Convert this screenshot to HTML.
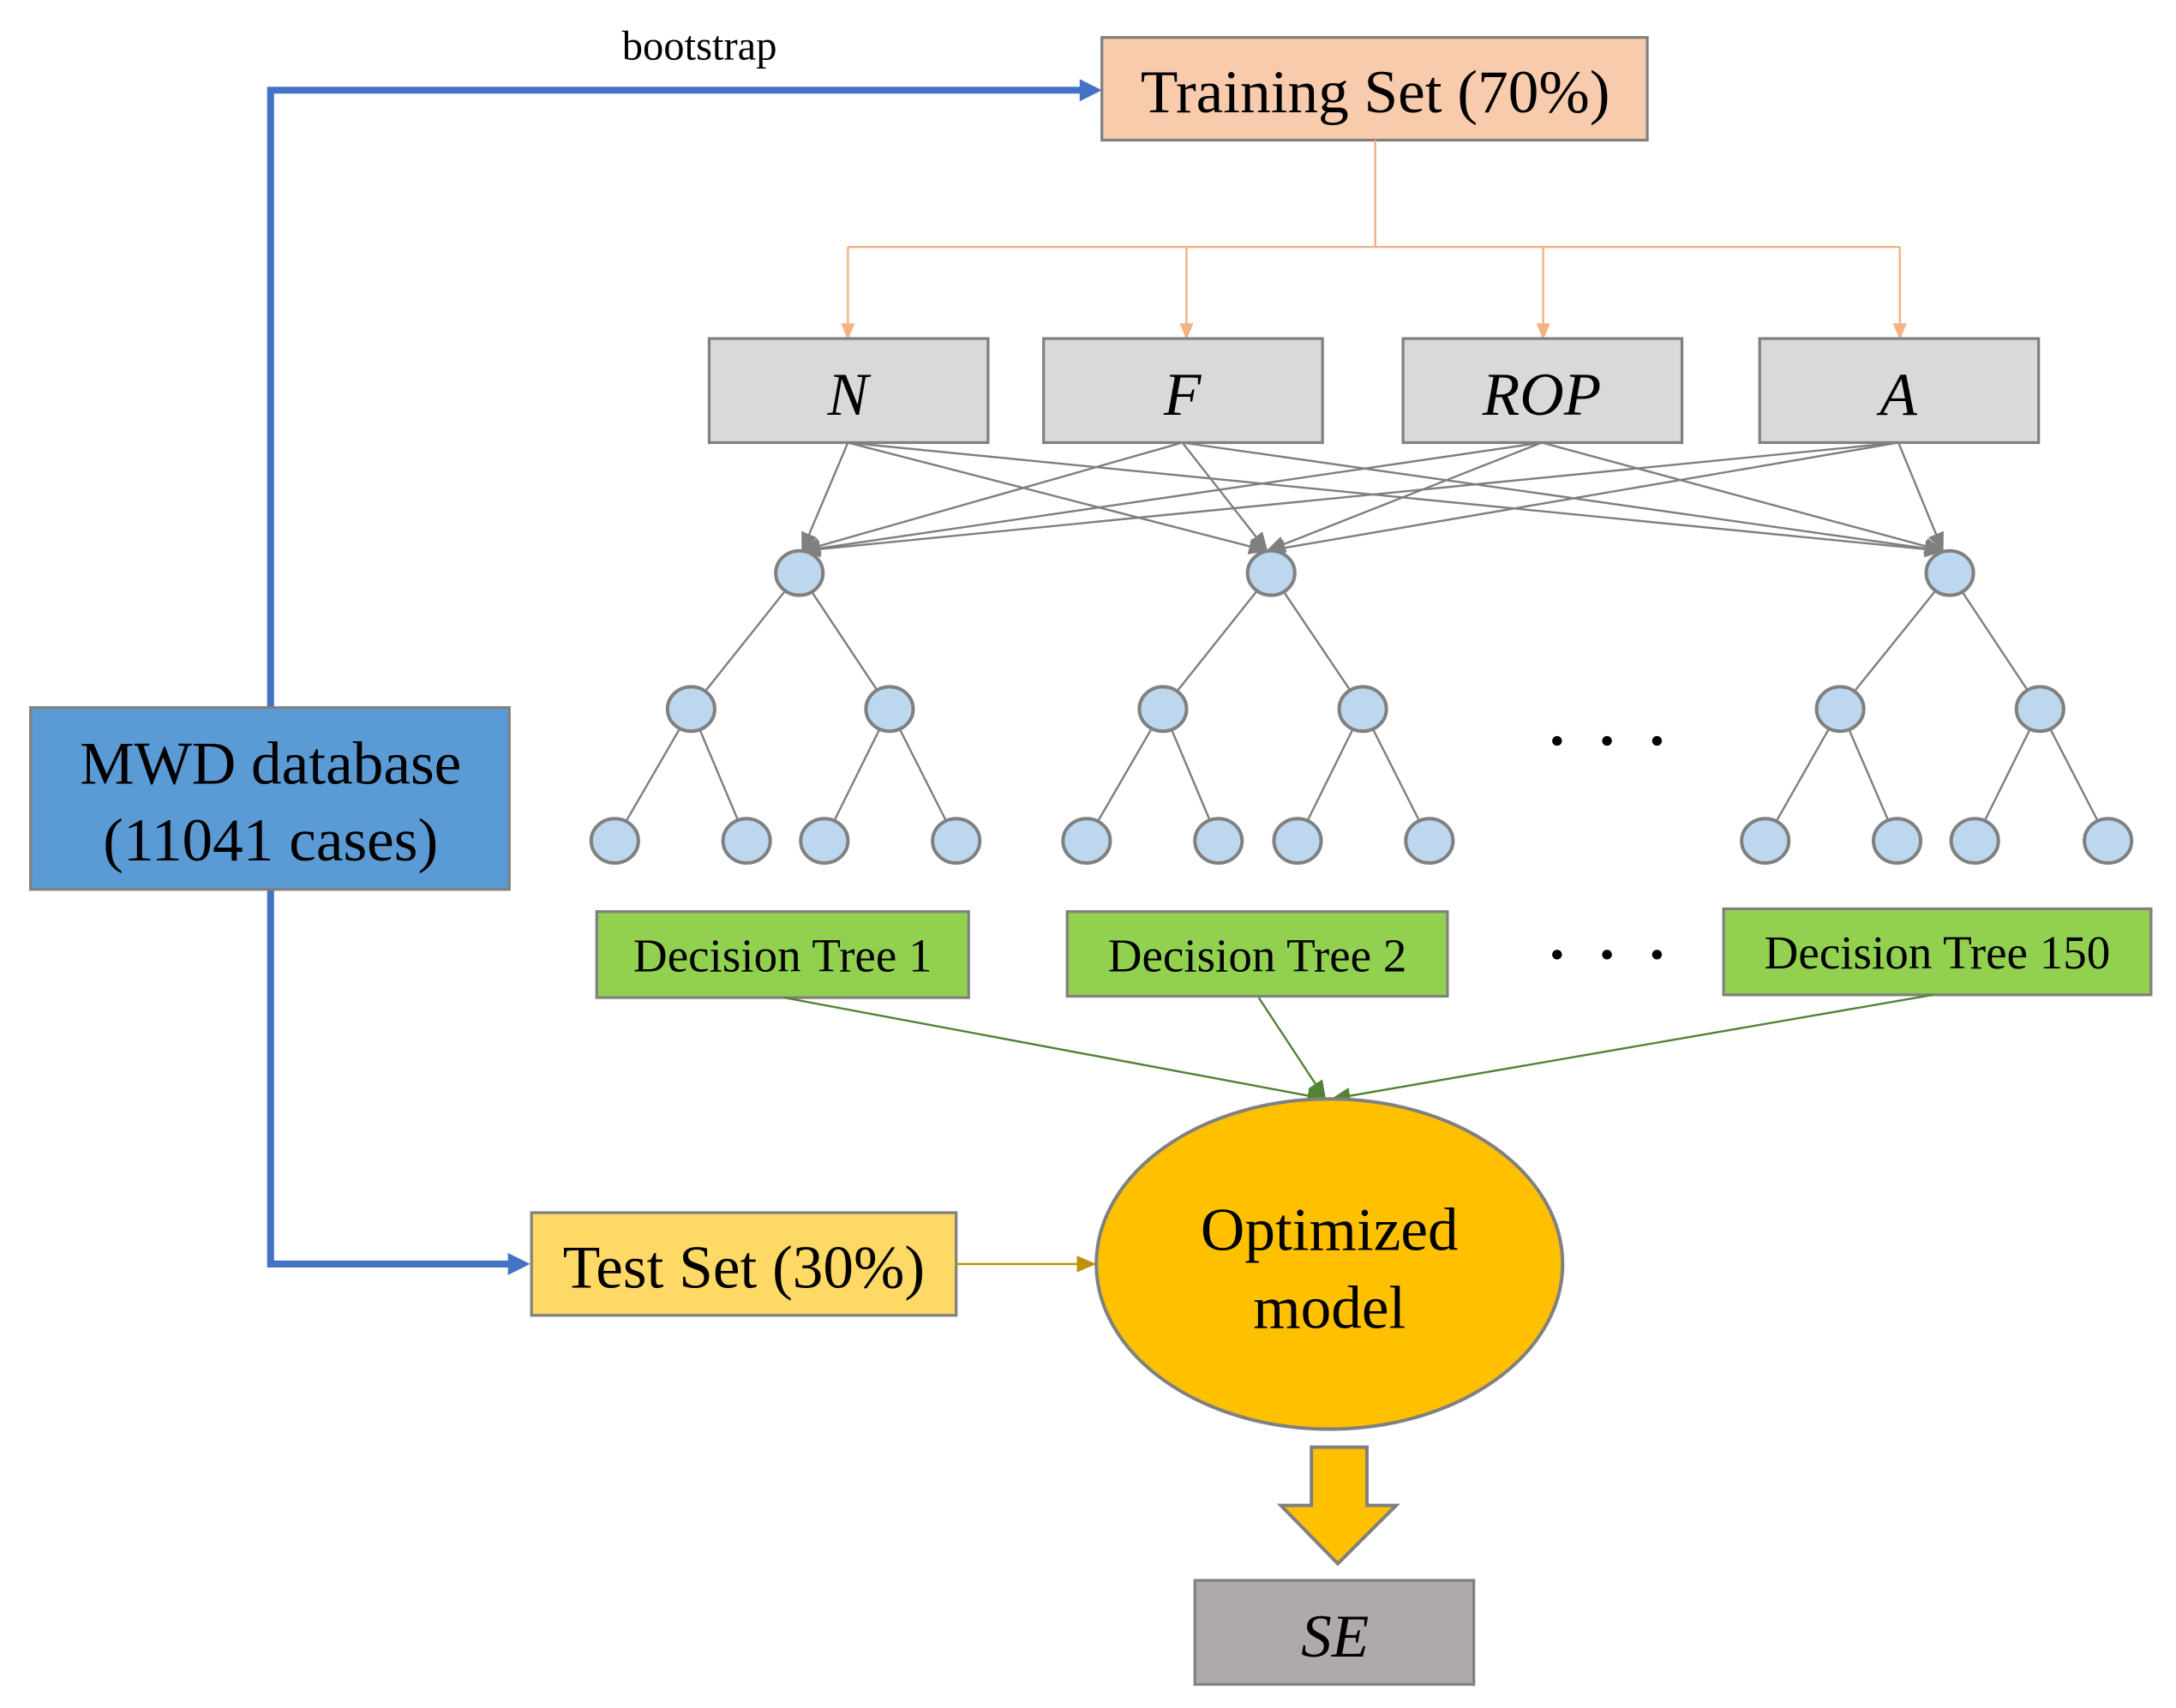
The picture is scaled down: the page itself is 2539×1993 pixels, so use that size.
<!DOCTYPE html>
<html><head><meta charset="utf-8"><style>
html,body{margin:0;padding:0;background:#fff;}
svg{display:block;}
text{font-family:"Liberation Serif",serif;fill:#000;}
</style></head><body>
<svg width="2539" height="1993" viewBox="0 0 1568 1231" preserveAspectRatio="none" xmlns="http://www.w3.org/2000/svg">
<defs>
<marker id="ab" markerWidth="6" markerHeight="6" refX="5" refY="3" orient="auto" markerUnits="userSpaceOnUse" viewBox="0 0 6 6"><path d="M0,0 L6,3 L0,6 z" fill="#4472C4"/></marker>
<marker id="ao" markerWidth="12" markerHeight="12" refX="11" refY="6" orient="auto" markerUnits="userSpaceOnUse"><path d="M0,1 L12,6 L0,11 z" fill="#F4B183"/></marker>
<marker id="ag" markerWidth="14" markerHeight="14" refX="13" refY="7" orient="auto" markerUnits="userSpaceOnUse"><path d="M0,1 L14,7 L0,13 z" fill="#7F7F7F"/></marker>
<marker id="agr" markerWidth="14" markerHeight="14" refX="13" refY="7" orient="auto" markerUnits="userSpaceOnUse"><path d="M0,1 L14,7 L0,13 z" fill="#548235"/></marker>
<marker id="ay" markerWidth="14" markerHeight="14" refX="13" refY="7" orient="auto" markerUnits="userSpaceOnUse"><path d="M0,1 L14,7 L0,13 z" fill="#BF9000"/></marker>
</defs>

<text x="504" y="43" font-size="30" text-anchor="middle">bootstrap</text>
<polyline points="195,510 195,65 780,65" fill="none" stroke="#4472C4" stroke-width="5"/>
<path d="M778,57 L794,65 L778,73 z" fill="#4472C4"/>
<polyline points="195,641 195,911 368,911" fill="none" stroke="#4472C4" stroke-width="5"/>
<path d="M366,903 L382,911 L366,919 z" fill="#4472C4"/>

<rect x="794" y="27" width="393" height="74" fill="#F8CBAD" stroke="#808080" stroke-width="2"/>
<text x="991" y="81" font-size="44" text-anchor="middle">Training Set (70%)</text>

<g stroke="#F4B183" stroke-width="1.5" fill="none">
<line x1="991" y1="101" x2="991" y2="178"/>
<line x1="611" y1="178" x2="1369" y2="178"/>
<line x1="611" y1="178" x2="611" y2="244" marker-end="url(#ao)"/>
<line x1="855" y1="178" x2="855" y2="244" marker-end="url(#ao)"/>
<line x1="1112" y1="178" x2="1112" y2="244" marker-end="url(#ao)"/>
<line x1="1369" y1="178" x2="1369" y2="244" marker-end="url(#ao)"/>
</g>

<g fill="#D9D9D9" stroke="#808080" stroke-width="2">
<rect x="511" y="244" width="201" height="75"/>
<rect x="752" y="244" width="201" height="75"/>
<rect x="1011" y="244" width="201" height="75"/>
<rect x="1268" y="244" width="201" height="75"/>
</g>
<g font-size="44" font-style="italic" text-anchor="middle">
<text x="611" y="299">N</text>
<text x="852" y="299">F</text>
<text x="1111" y="299">ROP</text>
<text x="1368" y="299">A</text>
</g>

<g stroke="#7F7F7F" stroke-width="1.5" fill="none">
<line x1="611" y1="319" x2="578" y2="397" marker-end="url(#ag)"/>
<line x1="611" y1="319" x2="913" y2="397" marker-end="url(#ag)"/>
<line x1="611" y1="319" x2="1400" y2="397" marker-end="url(#ag)"/>
<line x1="852" y1="319" x2="578" y2="397" marker-end="url(#ag)"/>
<line x1="852" y1="319" x2="913" y2="397" marker-end="url(#ag)"/>
<line x1="852" y1="319" x2="1400" y2="397" marker-end="url(#ag)"/>
<line x1="1111" y1="319" x2="578" y2="397" marker-end="url(#ag)"/>
<line x1="1111" y1="319" x2="913" y2="397" marker-end="url(#ag)"/>
<line x1="1111" y1="319" x2="1400" y2="397" marker-end="url(#ag)"/>
<line x1="1368" y1="319" x2="578" y2="397" marker-end="url(#ag)"/>
<line x1="1368" y1="319" x2="913" y2="397" marker-end="url(#ag)"/>
<line x1="1368" y1="319" x2="1400" y2="397" marker-end="url(#ag)"/>
</g>

<g stroke="#7F7F7F" stroke-width="1.5">
<line x1="576" y1="413" x2="498" y2="511"/><line x1="576" y1="413" x2="641" y2="511"/>
<line x1="498" y1="511" x2="443" y2="606"/><line x1="498" y1="511" x2="538" y2="606"/>
<line x1="641" y1="511" x2="594" y2="606"/><line x1="641" y1="511" x2="689" y2="606"/>
<line x1="916" y1="413" x2="838" y2="511"/><line x1="916" y1="413" x2="982" y2="511"/>
<line x1="838" y1="511" x2="783" y2="606"/><line x1="838" y1="511" x2="878" y2="606"/>
<line x1="982" y1="511" x2="935" y2="606"/><line x1="982" y1="511" x2="1030" y2="606"/>
<line x1="1405" y1="413" x2="1326" y2="511"/><line x1="1405" y1="413" x2="1470" y2="511"/>
<line x1="1326" y1="511" x2="1272" y2="606"/><line x1="1326" y1="511" x2="1367" y2="606"/>
<line x1="1470" y1="511" x2="1423" y2="606"/><line x1="1470" y1="511" x2="1519" y2="606"/>
</g>
<g fill="#BDD7EE" stroke="#808080" stroke-width="2.5">
<ellipse cx="576" cy="413" rx="17" ry="16"/><ellipse cx="916" cy="413" rx="17" ry="16"/><ellipse cx="1405" cy="413" rx="17" ry="16"/>
<ellipse cx="498" cy="511" rx="17" ry="16"/><ellipse cx="641" cy="511" rx="17" ry="16"/>
<ellipse cx="838" cy="511" rx="17" ry="16"/><ellipse cx="982" cy="511" rx="17" ry="16"/>
<ellipse cx="1326" cy="511" rx="17" ry="16"/><ellipse cx="1470" cy="511" rx="17" ry="16"/>
<ellipse cx="443" cy="606" rx="17" ry="16"/><ellipse cx="538" cy="606" rx="17" ry="16"/><ellipse cx="594" cy="606" rx="17" ry="16"/><ellipse cx="689" cy="606" rx="17" ry="16"/>
<ellipse cx="783" cy="606" rx="17" ry="16"/><ellipse cx="878" cy="606" rx="17" ry="16"/><ellipse cx="935" cy="606" rx="17" ry="16"/><ellipse cx="1030" cy="606" rx="17" ry="16"/>
<ellipse cx="1272" cy="606" rx="17" ry="16"/><ellipse cx="1367" cy="606" rx="17" ry="16"/><ellipse cx="1423" cy="606" rx="17" ry="16"/><ellipse cx="1519" cy="606" rx="17" ry="16"/>
</g>

<g fill="#000">
<circle cx="1122" cy="534" r="3.5"/><circle cx="1158" cy="534" r="3.5"/><circle cx="1194" cy="534" r="3.5"/>
<circle cx="1122" cy="688" r="3.5"/><circle cx="1158" cy="688" r="3.5"/><circle cx="1194" cy="688" r="3.5"/>
</g>

<rect x="22" y="510" width="345" height="131" fill="#5B9BD5" stroke="#808080" stroke-width="2"/>
<text x="195" y="565" font-size="44" text-anchor="middle">MWD database</text>
<text x="195" y="620" font-size="44" text-anchor="middle">(11041 cases)</text>

<g fill="#92D050" stroke="#808080" stroke-width="2">
<rect x="430" y="657" width="268" height="62"/>
<rect x="769" y="657" width="274" height="61"/>
<rect x="1242" y="655" width="308" height="62"/>
</g>
<g font-size="34" text-anchor="middle">
<text x="564" y="700">Decision Tree 1</text>
<text x="906" y="700">Decision Tree 2</text>
<text x="1396" y="698">Decision Tree 150</text>
</g>

<g stroke="#548235" stroke-width="1.5" fill="none">
<line x1="565" y1="719" x2="955" y2="792" marker-end="url(#agr)"/>
<line x1="907" y1="719" x2="955" y2="792" marker-end="url(#agr)"/>
<line x1="1393" y1="717" x2="960" y2="792" marker-end="url(#agr)"/>
</g>

<rect x="383" y="874" width="306" height="74" fill="#FFD966" stroke="#808080" stroke-width="2"/>
<text x="536" y="928" font-size="44" text-anchor="middle">Test Set (30%)</text>
<line x1="689" y1="911" x2="789" y2="911" stroke="#BF9000" stroke-width="1.5" marker-end="url(#ay)"/>

<ellipse cx="958" cy="911" rx="168" ry="119" fill="#FFC000" stroke="#808080" stroke-width="2.5"/>
<text x="958" y="901" font-size="44" text-anchor="middle">Optimized</text>
<text x="958" y="957" font-size="44" text-anchor="middle">model</text>

<path d="M945,1043 L985,1043 L985,1085 L1006,1085 L964,1127 L923,1085 L945,1085 z" fill="#FFC000" stroke="#808080" stroke-width="2.5"/>

<rect x="861" y="1139" width="201" height="75" fill="#AEAAAA" stroke="#808080" stroke-width="2"/>
<text x="962" y="1194" font-size="44" font-style="italic" text-anchor="middle">SE</text>
</svg>
</body></html>
